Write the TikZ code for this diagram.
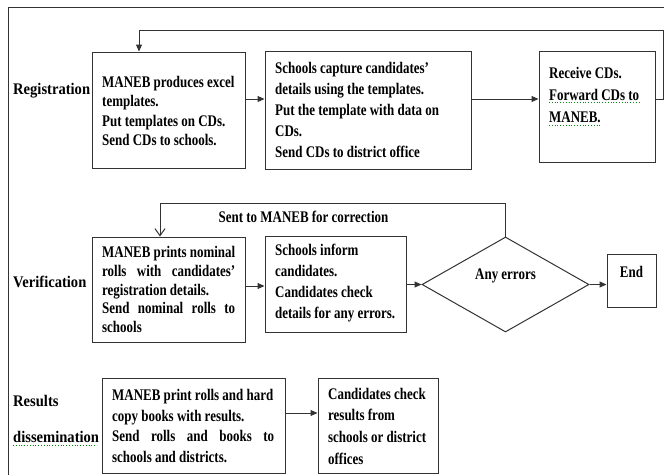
\documentclass[tikz,border=0pt]{standalone}
\usepackage{fontspec}
\setmainfont{Liberation Serif}[FakeStretch=0.8]
\newfontfamily\labfont{Liberation Serif}[FakeStretch=0.9]
\usetikzlibrary{arrows.meta,shapes.geometric}
\begin{document}
\begin{tikzpicture}[x=1pt,y=-1pt,
  ln/.style={draw=black!80, line width=1pt},
  box/.style={ln, rectangle, inner sep=0pt},
  txt/.style={anchor=west, inner sep=0pt, align=left, text=black,
    font=\fontsize{16.2pt}{#1}\selectfont\bfseries},
  lab/.style={anchor=west, inner sep=0pt, text=black,
    font=\fontsize{16.2pt}{20pt}\selectfont\labfont\bfseries},
  arr/.style={ln, -{Triangle[length=7pt,width=6pt]}},
  barb/.style={ln, -{Straight Barb[length=7pt,width=10pt]}},
  spell/.style={draw=green!55!black, line width=0.8pt, dotted}
]
\useasboundingbox (0,0) rectangle (664,475);
% frame
\coordinate (ftr) at (664,7);
\coordinate (ftl) at (8,7);
\coordinate (fbl) at (8,475);
\draw[ln] (ftr) -- (ftl) -- (fbl);

% row labels
\node[lab] (lreg) at (13,91) {Registration};
\node[lab] (lver) at (13,282) {Verification};
\node[lab] (lres) at (13,401) {Results};
\node[lab] (ldis) at (13,437) {dissemination};

% boxes
\node[box, minimum width=153pt, minimum height=116pt] (A) at (168.5,110) {};
\node[box, minimum width=206pt, minimum height=118pt] (B) at (368,110) {};
\node[box, minimum width=116pt, minimum height=111pt] (C) at (597,106.5) {};
\node[box, minimum width=153pt, minimum height=105pt] (D) at (168.5,289.5) {};
\node[box, minimum width=141pt, minimum height=96pt] (E) at (335.5,284) {};
\node[ln, diamond, inner sep=0pt, minimum width=167pt, minimum height=95pt] (Q) at (505.5,284.5) {};
\node[box, minimum width=49pt, minimum height=53pt] (End) at (631.5,280.5) {};
\node[box, minimum width=183pt, minimum height=95pt] (F) at (193.5,425.5) {};
\node[box, minimum width=120pt, minimum height=95pt] (G) at (378,425.5) {};

% texts
\node[txt=19.5pt] (tA) at (102,111) {MANEB produces excel\\templates.\\Put templates on CDs.\\Send CDs to schools.};
\node[txt=21pt] (tB) at (275,110) {Schools capture candidates'\\details using the templates.\\Put the template with data on\\CDs.\\Send CDs to district office};
\node[txt=22pt] (tC) at (549,95) {Receive CDs.\\Forward CDs to\\MANEB.};
\node[txt=18.7pt] (tD) at (102,289.5) {\makebox[133pt][s]{MANEB prints nominal}\\\makebox[133pt][s]{rolls with candidates'}\\registration details.\\\makebox[133pt][s]{Send nominal rolls to}\\schools};
\node[txt=21pt] (tE) at (275,283.5) {Schools inform\\candidates.\\Candidates check\\details for any errors.};
\node[txt=20pt, anchor=center] (tQ) at (505.5,276) {Any errors};
\node[txt=20pt, anchor=center] (tEnd) at (631.5,272) {End};
\node[txt=20.7pt] (tF) at (112,426) {MANEB print rolls and hard\\copy books with results.\\\makebox[162pt][s]{Send rolls and books to}\\schools and districts.};
\node[txt=21.7pt] (tG) at (328,426) {Candidates check\\results from\\schools or district\\offices};
\node[txt=20pt, anchor=center] (tS) at (303.5,217) {Sent to MANEB for correction};

% spell-check marks
\coordinate (s1a) at (549,102); \coordinate (s1b) at (639,102);
\coordinate (s2a) at (549,125); \coordinate (s2b) at (600,125);
\coordinate (s3a) at (13,445); \coordinate (s3b) at (97,445);
\draw[spell] (s1a) -- (s1b);
\draw[spell] (s2a) -- (s2b);
\draw[spell] (s3a) -- (s3b);

% registration connectors
\coordinate (r1) at (0,99);
\draw[arr] (A.east |- r1) -- (B.west |- r1);
\draw[arr] (B.east |- r1) -- (C.west |- r1);
\coordinate (fb1) at (663,99);
\coordinate (fb2) at (663,30);
\coordinate (fb3) at (139,30);
\draw[arr] (C.east |- r1) -- (fb1) -- (fb2) -- (fb3) -- (fb3 |- A.north);

% verification connectors
\coordinate (r2) at (0,286);
\coordinate (r3) at (0,284.5);
\draw[arr] (D.east |- r2) -- (E.west |- r2);
\draw[arr] (E.east |- r3) -- (Q.west);
\draw[arr] (Q.east) -- (End.west |- Q.east);
\coordinate (vb1) at (505.5,203);
\coordinate (vb2) at (160,203);
\draw[barb] (Q.north) -- (vb1) -- (vb2) -- (vb2 |- D.north);

% results connector
\coordinate (r4) at (0,413);
\draw[arr] (F.east |- r4) -- (G.west |- r4);
\end{tikzpicture}
\end{document}
